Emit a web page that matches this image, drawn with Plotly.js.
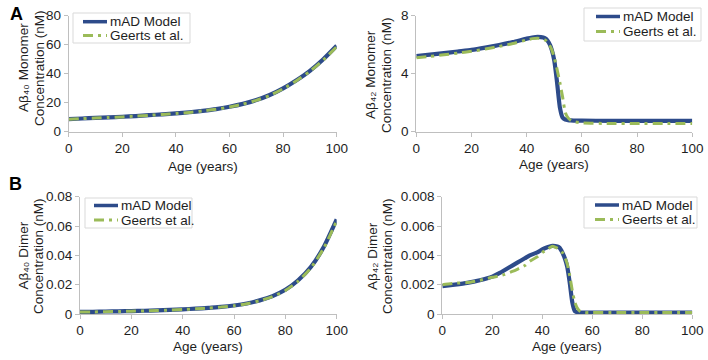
<!DOCTYPE html>
<html>
<head>
<meta charset="utf-8">
<script src="https://cdn.plot.ly/plotly-3.0.1.min.js"></script>
<style>
  html, body { margin: 0; padding: 0; background: #fff; }
  #chart { width: 708px; height: 360px; }
</style>
</head>
<body>
<div id="chart"></div>
<script>
// ---- Data ---------------------------------------------------------------
// Aβ40 monomer and dimer (age in years)
const ageA40 = [0, 5, 10, 15, 20, 25, 30, 35, 40, 45, 50, 55, 60, 65, 70, 75, 80, 85, 90, 95, 100];
const a40MonoModel  = [8.7, 9.1, 9.5, 9.9, 10.3, 10.8, 11.4, 12.0, 12.6, 13.4, 14.4, 15.6, 17.2, 19.2, 21.8, 25.3, 29.9, 35.5, 42.0, 50.0, 59.3];
const a40MonoGeerts = [8.6, 9.0, 9.4, 9.8, 10.2, 10.7, 11.3, 11.9, 12.5, 13.3, 14.3, 15.5, 17.0, 19.0, 21.6, 25.0, 29.6, 35.2, 41.6, 49.4, 58.6];
const a40DimerModel  = [0.0014, 0.0015, 0.0017, 0.0018, 0.0020, 0.0022, 0.0025, 0.0028, 0.0032, 0.0036, 0.0042, 0.0048, 0.0058, 0.0072, 0.0093, 0.0122, 0.0165, 0.0230, 0.0322, 0.0458, 0.0645];
const a40DimerGeerts = [0.0013, 0.0014, 0.0016, 0.0017, 0.0019, 0.0021, 0.0024, 0.0027, 0.0031, 0.0035, 0.0041, 0.0047, 0.0056, 0.0070, 0.0090, 0.0118, 0.0160, 0.0224, 0.0315, 0.0450, 0.0635];

// Aβ42 monomer
const ageA42Mono = [0, 5, 10, 15, 20, 25, 30, 35, 40, 42, 44, 46, 47, 48, 49, 50, 51, 52, 53, 54, 55, 56, 57, 60, 70, 80, 90, 100];
const a42MonoModel  = [5.22, 5.32, 5.42, 5.53, 5.64, 5.8, 5.98, 6.18, 6.42, 6.5, 6.54, 6.5, 6.4, 6.15, 5.7, 4.9, 3.4, 1.7, 0.98, 0.84, 0.8, 0.78, 0.77, 0.76, 0.75, 0.75, 0.75, 0.75];
const a42MonoGeerts = [5.1, 5.2, 5.3, 5.42, 5.55, 5.7, 5.88, 6.08, 6.33, 6.42, 6.45, 6.38, 6.28, 6.05, 5.7, 5.1, 4.3, 3.4, 2.4, 1.3, 0.95, 0.78, 0.7, 0.6, 0.57, 0.57, 0.57, 0.57];

// Aβ42 dimer
const ageA42Dimer = [0, 5, 10, 15, 20, 23, 25, 28, 30, 33, 35, 38, 40, 42, 44, 46, 47, 48, 49, 50, 51, 52, 53, 54, 55, 56, 60, 70, 80, 90, 100];
const a42DimerModel  = [0.0019, 0.002, 0.00212, 0.0023, 0.00255, 0.0028, 0.003, 0.0033, 0.0035, 0.0038, 0.004, 0.0042, 0.0044, 0.00455, 0.00465, 0.0046, 0.0045, 0.0042, 0.0038, 0.0032, 0.0021, 0.0008, 0.0002, 0.00012, 0.0001, 0.0001, 0.0001, 0.0001, 0.0001, 0.0001, 0.0001];
const a42DimerGeerts = [0.002, 0.0021, 0.00215, 0.0023, 0.0025, 0.0026, 0.0027, 0.0029, 0.00305, 0.0033, 0.0036, 0.0039, 0.0042, 0.0044, 0.00462, 0.0045, 0.0044, 0.0042, 0.0039, 0.0034, 0.0026, 0.0016, 0.0008, 0.0004, 0.0002, 0.0001, 0.0001, 0.0001, 0.0001, 0.0001, 0.0001];

const seriesNames = ['mAD Model', 'Geerts et al.'];
const yTitles = [
  ['A\u03B2\u2084\u2080 Monomer', 'Concentration (nM)'],
  ['A\u03B2\u2084\u2082 Monomer', 'Concentration (nM)'],
  ['A\u03B2\u2084\u2080 Dimer', 'Concentration (nM)'],
  ['A\u03B2\u2084\u2082 Dimer', 'Concentration (nM)']
];
const xTitle = 'Age (years)';
const panelLetters = ['A', 'B'];

// ---- Styling ------------------------------------------------------------
const W = 708, H = 360;
const FONT = 'Liberation Sans, Arial, sans-serif';
const FS = 13.5;
const BLUE = '#2D4B8A';
const GREEN = '#9BBB59';
const AXIS = '#BFBFBF';
const TEXT = '#1e1e1e';
const GREEN_DASH = '10px,5px,3px,5px';

const fx = px => px / W;
const fy = py => 1 - py / H;

// plot areas in pixels: [left, right, top, bottom]
const boxes = [
  [68.7, 336.7, 15.7, 131.7],
  [416.3, 692.3, 15.7, 131.7],
  [80.0, 336.7, 196.7, 314.0],
  [442.3, 692.3, 196.7, 314.0]
];

const panels = [
  { x: ageA40,      model: a40MonoModel,  geerts: a40MonoGeerts,  yr: [0, 80],    dt: 20 },
  { x: ageA42Mono,  model: a42MonoModel,  geerts: a42MonoGeerts,  yr: [0, 8],     dt: 4 },
  { x: ageA40,      model: a40DimerModel, geerts: a40DimerGeerts, yr: [0, 0.08],  dt: 0.02 },
  { x: ageA42Dimer, model: a42DimerModel, geerts: a42DimerGeerts, yr: [0, 0.008], dt: 0.002 }
];

// key boxes in pixels: box [left, right, top, bottom], sample [x0, x1], row centres [y1, y2]
const keys = [
  { box: [73, 190, 13, 43],   sample: [83, 107],  rows: [21.7, 35.5] },
  { box: [584, 701, 8, 41],   sample: [596, 620], rows: [16.5, 31.5] },
  { box: [85, 192, 198, 228], sample: [94, 118],  rows: [205.5, 220] },
  { box: [584, 697, 197, 228], sample: [595, 619], rows: [205, 219.5] }
];

const traces = [];
const layout = {
  width: W, height: H,
  margin: { l: 0, r: 0, t: 0, b: 0 },
  paper_bgcolor: '#fff',
  plot_bgcolor: '#fff',
  font: { family: FONT, size: FS, color: TEXT },
  showlegend: false,
  annotations: [],
  shapes: []
};

function label(text, x, y, extra) {
  return Object.assign({
    text: text, xref: 'paper', yref: 'paper', x: fx(x), y: fy(y),
    xanchor: 'center', yanchor: 'middle', showarrow: false,
    font: { family: FONT, size: FS, color: TEXT }
  }, extra || {});
}

panels.forEach((p, i) => {
  const n = i === 0 ? '' : String(i + 1);
  const b = boxes[i];
  traces.push({
    x: p.x, y: p.model, xaxis: 'x' + n, yaxis: 'y' + n,
    type: 'scatter', mode: 'lines', name: seriesNames[0],
    line: { color: BLUE, width: 4.2, shape: 'spline', smoothing: 0.5 }
  });
  traces.push({
    x: p.x, y: p.geerts, xaxis: 'x' + n, yaxis: 'y' + n,
    type: 'scatter', mode: 'lines', name: seriesNames[1],
    line: { color: GREEN, width: 3, dash: GREEN_DASH, shape: 'spline', smoothing: 0.5 }
  });

  const axisCommon = {
    showgrid: false, zeroline: false, showline: true,
    linecolor: AXIS, linewidth: 1,
    ticks: 'outside', ticklen: 4, tickcolor: AXIS, tickwidth: 1,
    tickfont: { family: FONT, size: FS, color: TEXT },
    fixedrange: true
  };
  layout['xaxis' + n] = Object.assign({}, axisCommon, {
    domain: [fx(b[0]), fx(b[1])], anchor: 'y' + n,
    range: [0, 100], tick0: 0, dtick: 20
  });
  layout['yaxis' + n] = Object.assign({}, axisCommon, {
    domain: [fy(b[3]), fy(b[2])], anchor: 'x' + n,
    range: p.yr, tick0: 0, dtick: p.dt
  });

  // key: framed box with a line sample and a name per series
  const k = keys[i];
  layout.shapes.push({
    type: 'rect', xref: 'paper', yref: 'paper',
    x0: fx(k.box[0]), x1: fx(k.box[1]), y0: fy(k.box[3]), y1: fy(k.box[2]),
    fillcolor: '#fff', line: { color: '#D9D9D9', width: 1 }
  });
  const styles = [
    { color: BLUE, width: 3.5 },
    { color: GREEN, width: 3, dash: GREEN_DASH }
  ];
  k.rows.forEach((ry, r) => {
    layout.shapes.push({
      type: 'line', xref: 'paper', yref: 'paper',
      x0: fx(k.sample[0]), x1: fx(k.sample[1]), y0: fy(ry), y1: fy(ry),
      line: styles[r]
    });
    layout.annotations.push(label(seriesNames[r], k.sample[1] + 0.5, ry, { xanchor: 'left' }));
  });
});

// axis titles
const yTitlePos = [
  [23, 39, 68],
  [370, 386, 75],
  [22.5, 38, 256],
  [372, 387, 256]
];
const xTitlePos = [
  [202.7, 166],
  [554.3, 164.5],
  [208.3, 346],
  [567.3, 346.5]
];
yTitles.forEach((t, i) => {
  const p = yTitlePos[i];
  layout.annotations.push(label(t[0], p[0], p[2], { textangle: -90 }));
  layout.annotations.push(label(t[1], p[1], p[2], { textangle: -90 }));
  layout.annotations.push(label(xTitle, xTitlePos[i][0], xTitlePos[i][1]));
});
// panel letters
layout.annotations.push(label('<b>' + panelLetters[0] + '</b>', 16, 14, { font: { family: FONT, size: 18, color: '#000' } }));
layout.annotations.push(label('<b>' + panelLetters[1] + '</b>', 15, 184, { font: { family: FONT, size: 18, color: '#000' } }));

Plotly.newPlot('chart', traces, layout, { staticPlot: true, displayModeBar: false });
</script>
</body>
</html>
